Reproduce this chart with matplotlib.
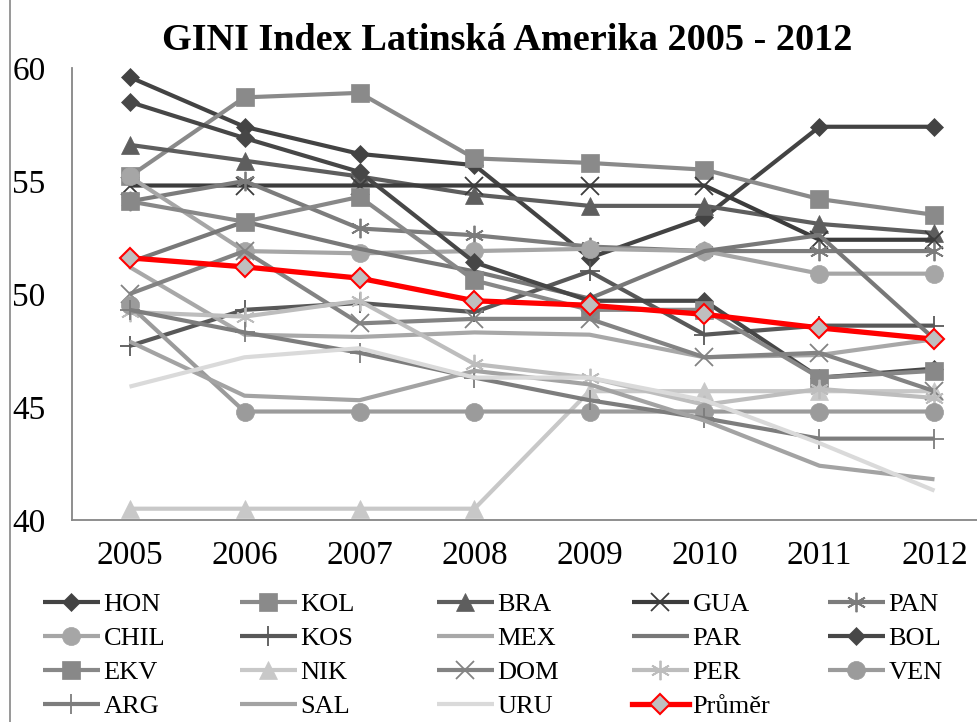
import matplotlib
matplotlib.use("Agg")
import matplotlib.pyplot as plt
from matplotlib.lines import Line2D

# roky
years = ["2005", "2006", "2007", "2008", "2009", "2010", "2011", "2012"]

# GINI hodnoty
HON = [59.6, 57.4, 56.2, 55.7, 51.6, 53.4, 57.4, 57.4]
KOL = [55.2, 58.7, 58.9, 56.0, 55.8, 55.5, 54.2, 53.5]
BRA = [56.6, 55.9, 55.2, 54.4, 53.9, 53.9, 53.1, 52.7]
GUA = [54.8, 54.8, 54.8, 54.8, 54.8, 54.8, 52.4, 52.4]
PAN = [54.1, 55.0, 52.9, 52.6, 52.1, 51.9, 51.9, 51.9]
CHIL = [55.2, 51.9, 51.8, 51.9, 52.0, 51.9, 50.9, 50.9]
KOS = [47.7, 49.3, 49.6, 49.2, 51.0, 48.2, 48.6, 48.6]
MEX = [51.2, 48.2, 48.1, 48.3, 48.2, 47.2, 47.3, 48.0]
PAR = [51.4, 53.2, 52.0, 51.0, 49.8, 51.9, 52.6, 48.0]
BOL = [58.5, 56.9, 55.4, 51.4, 49.7, 49.7, 46.3, 46.7]
EKV = [54.1, 53.2, 54.3, 50.6, 49.3, 49.3, 46.3, 46.6]
NIK = [40.5, 40.5, 40.5, 40.5, 45.7, 45.7, 45.7, 45.7]
DOM = [50.0, 51.9, 48.7, 48.9, 48.9, 47.2, 47.4, 45.7]
PER = [49.2, 49.0, 49.7, 46.9, 46.3, 45.1, 45.8, 45.4]
VEN = [49.5, 44.8, 44.8, 44.8, 44.8, 44.8, 44.8, 44.8]
ARG = [49.3, 48.3, 47.4, 46.3, 45.3, 44.5, 43.6, 43.6]
SAL = [47.9, 45.5, 45.3, 46.6, 46.0, 44.4, 42.4, 41.8]
URU = [45.9, 47.2, 47.6, 46.3, 46.3, 45.3, 43.4, 41.3]
PRUMER = [51.6, 51.2, 50.7, 49.7, 49.5, 49.1, 48.5, 48.0]

AST = (6, 2, 0)

# (jmeno, data, barva, marker, velikost markeru)
series = [
    ("HON", HON, "#434343", "D", 9),
    ("KOL", KOL, "#8a8a8a", "s", 13),
    ("BRA", BRA, "#5e5e5e", "^", 13),
    ("GUA", GUA, "#3c3c3c", "x", 13),
    ("PAN", PAN, "#7c7c7c", AST, 14),
    ("CHIL", CHIL, "#a6a6a6", "o", 13),
    ("KOS", KOS, "#585858", "+", 14),
    ("MEX", MEX, "#a8a8a8", None, 0),
    ("PAR", PAR, "#787878", None, 0),
    ("BOL", BOL, "#474747", "D", 9),
    ("EKV", EKV, "#888888", "s", 13),
    ("NIK", NIK, "#c8c8c8", "^", 13),
    ("DOM", DOM, "#838383", "x", 13),
    ("PER", PER, "#bdbdbd", AST, 14),
    ("VEN", VEN, "#9b9b9b", "o", 13),
    ("ARG", ARG, "#7d7d7d", "+", 14),
    ("SAL", SAL, "#a3a3a3", None, 0),
    ("URU", URU, "#dadada", None, 0),
]

plt.rcParams["font.family"] = ["Liberation Serif", "DejaVu Serif"]

fig = plt.figure(figsize=(9.77, 7.22), dpi=100)
ax = fig.add_axes([72 / 977, 202 / 722, 920 / 977, 452 / 722])

x = list(range(len(years)))
handles = {}
for i, (name, vals, col, mk, ms) in enumerate(series):
    thin = mk in ("x", "+", AST)
    ln, = ax.plot(x, vals, color=col, lw=3.0, marker=mk, markersize=ms,
                  markerfacecolor=col, markeredgecolor=col,
                  markeredgewidth=1.3 if thin else 0.5,
                  solid_capstyle="butt", zorder=2 + i * 0.1, label=name)
    handles[name] = ln

avg, = ax.plot(x, PRUMER, color="#ff0000", lw=3.8, marker="D", markersize=10,
               markerfacecolor="#bfbfbf", markeredgecolor="#ff0000",
               markeredgewidth=1.5, zorder=5, label="Průměr")
handles["Průměr"] = avg

ax.set_xlim(-0.5, 7.5)
ax.set_ylim(40, 60)
ax.set_yticks([40, 45, 50, 55, 60])
ax.set_xticks(x)
ax.set_xticklabels(years)
ax.tick_params(axis="both", length=0, labelsize=24)
ax.tick_params(axis="y", pad=19)
ax.tick_params(axis="x", pad=15)
for s in ["top", "right"]:
    ax.spines[s].set_visible(False)
for s in ["left", "bottom"]:
    ax.spines[s].set_color("#868686")
    ax.spines[s].set_linewidth(1.3)

fig.text(507 / 977, 1 - 41 / 722, "GINI Index Latinská Amerika 2005 - 2012",
         ha="center", va="center", fontsize=27.5, fontweight="bold")

# levy okraj grafu
fig.add_artist(Line2D([9.5 / 977, 9.5 / 977], [0, 1], color="#868686", lw=1.2))

# legenda po sloupcich jako v Excelu
columns = [
    ["HON", "CHIL", "EKV", "ARG"],
    ["KOL", "KOS", "NIK", "SAL"],
    ["BRA", "MEX", "DOM", "URU"],
    ["GUA", "PAR", "PER", "Průměr"],
    ["PAN", "BOL", "VEN"],
]
col_x = [43, 240, 437, 632, 828]
for cx, names in zip(col_x, columns):
    leg = fig.legend([handles[n] for n in names], names, loc="upper left",
                     bbox_to_anchor=(cx / 977, 1 - 593 / 722), frameon=False,
                     fontsize=19, numpoints=1, handlelength=2.15,
                     handletextpad=0.15, borderpad=0, borderaxespad=0,
                     labelspacing=0.39)

fig.savefig("out.png", dpi=100)
